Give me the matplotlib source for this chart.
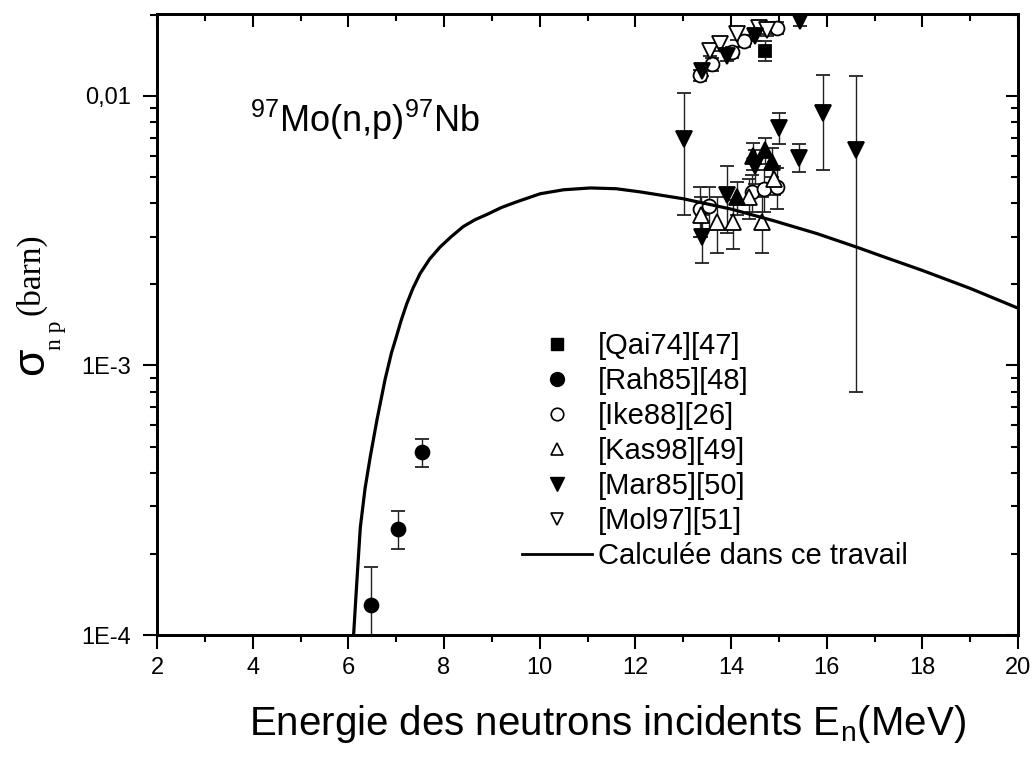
import numpy as np
import matplotlib
matplotlib.use("Agg")
import matplotlib.pyplot as plt
from matplotlib.lines import Line2D
from matplotlib.ticker import FixedLocator, FixedFormatter, NullFormatter

plt.rcParams['font.family'] = ['Liberation Sans', 'DejaVu Sans']

# ---- data ----
# calculated cross section (this work)
calc_E = [6.11, 6.18, 6.25, 6.35, 6.46, 6.6, 6.77, 6.9, 7.0, 7.1, 7.22, 7.35,
          7.5, 7.7, 7.92, 8.15, 8.4, 8.65, 8.9, 9.2, 9.5, 10.01, 10.5, 11.06,
          11.6, 12.1, 13.0, 14.0, 14.89, 15.8, 16.64, 17.13, 18.0, 19.0, 20.0]
calc_sig = [1.0e-4, 1.6e-4, 2.5e-4, 3.5e-4, 4.6e-4, 6.3e-4, 8.9e-4, 1.11e-3,
            1.27e-3, 1.46e-3, 1.69e-3, 1.93e-3, 2.19e-3, 2.48e-3, 2.75e-3,
            3.0e-3, 3.27e-3, 3.47e-3, 3.63e-3, 3.85e-3, 4.03e-3, 4.33e-3,
            4.48e-3, 4.55e-3, 4.52e-3, 4.4e-3, 4.15e-3, 3.8e-3, 3.44e-3,
            3.08e-3, 2.74e-3, 2.55e-3, 2.25e-3, 1.93e-3, 1.63e-3]

qai_E = [14.72]
qai_sig = [0.0147]
qai_err = [0.0012]

rah_E = [6.47, 7.04, 7.55]
rah_sig = [1.29e-4, 2.48e-4, 4.77e-4]
rah_err = [0.5e-4, 0.4e-4, 0.58e-4]

ike_E = [13.36, 13.6, 14.02, 14.27, 14.96, 13.36, 13.55, 14.44, 14.68, 14.96]
ike_sig = [0.0119, 0.0131, 0.0145, 0.0160, 0.0179,
           0.0038, 0.0039, 0.0044, 0.0045, 0.0046]
ike_err = [0.0006, 0.0007, 0.0007, 0.0008, 0.0009,
           0.0008, 0.0007, 0.0007, 0.0008, 0.0008]

kas_E = [13.38, 13.71, 14.04, 14.37, 14.65, 14.89]
kas_sig = [0.0036, 0.0034, 0.0034, 0.0042, 0.0034, 0.0049]
kas_err = [0.0006, 0.0008, 0.0007, 0.0007, 0.0008, 0.0006]

mar_E = [13.39, 13.92, 14.51, 15.44, 13.01, 13.39, 13.92, 14.51, 15.01,
         15.42, 15.93, 16.62]
mar_sig = [0.0124, 0.0141, 0.0167, 0.0190, 0.0069, 0.0030, 0.0043, 0.0055,
           0.0076, 0.0059, 0.0086, 0.0063]
mar_err = [0.0006, 0.0007, 0.0008, 0.0009, 0.0033, 0.0006, 0.0012, 0.0008,
           0.0010, 0.0007, 0.0033, 0.0055]

mol_E = [13.57, 13.78, 14.13, 14.58, 14.75]
mol_sig = [0.0147, 0.0155, 0.0169, 0.0179, 0.0176]
mol_err = [0.0007, 0.0008, 0.0008, 0.0009, 0.0009]

# unlabelled filled up-triangles in the 14 MeV cluster
ext_E = [14.13, 14.47, 14.72, 14.86]
ext_sig = [0.0042, 0.0060, 0.0063, 0.0057]
ext_err = [0.0006, 0.0007, 0.0007, 0.0007]

y_ticks = [1e-4, 1e-3, 1e-2]
y_labels = ['1E-4', '1E-3', '0,01']

W, H = 1035, 770
fig = plt.figure(figsize=(W / 100, H / 100), dpi=100)
L, R, B, T = 157, 1018, 635, 14
ax = fig.add_axes([L / W, 1 - B / H, (R - L) / W, (B - T) / H])

eb = dict(ecolor='#222222', elinewidth=1.0, capsize=5, capthick=1.0, ls='none',
          mec='black', mew=1.3, zorder=3)
ax.errorbar(qai_E, qai_sig, yerr=qai_err, marker='s', ms=9, mfc='black', **eb)
ax.errorbar(rah_E, rah_sig, yerr=rah_err, marker='o', ms=10, mfc='black', **eb)
ax.errorbar(ike_E, ike_sig, yerr=ike_err, marker='o', ms=10, mfc='white', **eb)
ax.errorbar(kas_E, kas_sig, yerr=kas_err, marker='^', ms=11, mfc='white', **eb)
ax.errorbar(mol_E, mol_sig, yerr=mol_err, marker='v', ms=11, mfc='white', **eb)
ax.errorbar(mar_E, mar_sig, yerr=mar_err, marker='v', ms=11, mfc='black', **eb)
ax.errorbar(ext_E, ext_sig, yerr=ext_err, marker='^', ms=11, mfc='black', **eb)

ax.plot(calc_E, calc_sig, color='black', lw=2.3, zorder=5)

ax.set_yscale('log')
ax.set_xlim(2, 20)
ax.set_ylim(1e-4, 0.0201)

ax.set_xticks(np.arange(2, 21, 2))
ax.set_xticks(np.arange(3, 20, 2), minor=True)
ax.yaxis.set_major_locator(FixedLocator(y_ticks))
ax.yaxis.set_major_formatter(FixedFormatter(y_labels))
minors = [m * 10.0 ** e for e in (-4, -3, -2) for m in range(2, 10)]
ax.yaxis.set_minor_locator(FixedLocator(minors))
ax.yaxis.set_minor_formatter(NullFormatter())

for s in ax.spines.values():
    s.set_linewidth(1.8)
ax.tick_params(which='major', direction='out', length=10, width=1.5,
               labelsize=17, top=False, right=False)
ax.tick_params(which='minor', direction='out', length=5, width=1.5,
               top=False, right=False)
ax.tick_params(axis='y', which='major', pad=9)
ax.tick_params(axis='x', which='major', pad=6)

# inward ticks on top and right
axt = ax.twiny()
axt.set_xlim(2, 20)
axt.set_xticks(np.arange(2, 21, 2))
axt.set_xticks(np.arange(3, 20, 2), minor=True)
axt.tick_params(which='major', direction='in', length=9, width=1.5, labeltop=False)
axt.tick_params(which='minor', direction='in', length=5, width=1.5)
axr = ax.twinx()
axr.set_yscale('log')
axr.set_ylim(1e-4, 0.0201)
axr.yaxis.set_major_locator(FixedLocator(y_ticks))
axr.yaxis.set_minor_locator(FixedLocator(minors))
axr.yaxis.set_major_formatter(NullFormatter())
axr.yaxis.set_minor_formatter(NullFormatter())
axr.tick_params(which='major', direction='in', length=9, width=1.5)
axr.tick_params(which='minor', direction='in', length=5, width=1.5)
for a in (axt, axr):
    for s in a.spines.values():
        s.set_linewidth(1.8)

# legend
handles = [
    Line2D([], [], ls='none', marker='s', ms=8, mfc='black', mec='black'),
    Line2D([], [], ls='none', marker='o', ms=10, mfc='black', mec='black'),
    Line2D([], [], ls='none', marker='o', ms=9, mfc='white', mec='black', mew=1.2),
    Line2D([], [], ls='none', marker='^', ms=9, mfc='white', mec='black', mew=1.2),
    Line2D([], [], ls='none', marker='v', ms=10, mfc='black', mec='black'),
    Line2D([], [], ls='none', marker='v', ms=9, mfc='white', mec='black', mew=1.2),
    Line2D([], [], color='black', lw=2.0),
]
labels = ['[Qai74][47]', '[Rah85][48]', '[Ike88][26]', '[Kas98][49]',
          '[Mar85][50]', '[Mol97][51]', 'Calculée dans ce travail']
ax.legend(handles, labels, loc='upper left',
          bbox_to_anchor=((522 - L) / (R - L), (B - 332) / (B - T)),
          frameon=False, fontsize=21, handlelength=2.4, handletextpad=0.2,
          labelspacing=0.24, borderpad=0, borderaxespad=0)

ax.text((250 - L) / (R - L), (B - 132) / (B - T),
        r'$\mathregular{^{97}Mo(n{,}p)^{97}Nb}$', transform=ax.transAxes,
        fontsize=26, ha='left', va='baseline')

# axis titles
fig.text(607 / W, 1 - 735 / H,
         r'Energie des neutrons incidents E$_\mathregular{n}$(MeV)',
         fontsize=29, ha='center', va='baseline')
fig.text(43 / W, 1 - 375 / H, 'σ', fontsize=32, rotation=90,
         rotation_mode='anchor', ha='left', va='baseline')
fig.text(61 / W, 1 - 350 / H, 'n p', fontsize=17, rotation=90,
         rotation_mode='anchor', ha='left', va='baseline',
         family='Liberation Serif')
fig.text(39 / W, 1 - 315 / H, '(barn)', fontsize=24, rotation=90,
         rotation_mode='anchor', ha='left', va='baseline',
         family='Liberation Serif')

fig.savefig('out.png', dpi=100)
